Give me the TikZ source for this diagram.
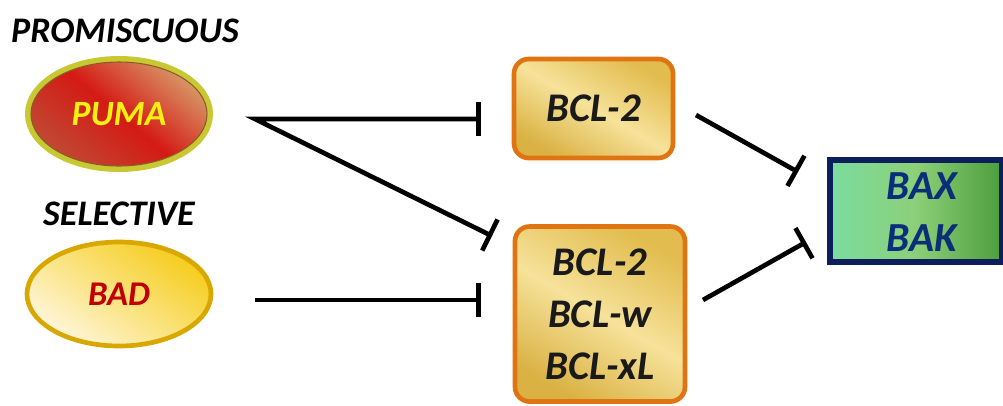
\documentclass[tikz,border=0pt]{standalone}
\usepackage{fontspec}
\setmainfont{Carlito}
\usetikzlibrary{shapes.geometric,arrows.meta}
\definecolor{pumaedge}{HTML}{C8C832}
\definecolor{pumaring}{HTML}{8A5A28}
\definecolor{pumared}{HTML}{D41A14}
\definecolor{pumatan}{HTML}{D89868}
\definecolor{pumabrown}{HTML}{C04A34}
\definecolor{pumatext}{HTML}{F8F010}
\definecolor{badedge}{HTML}{D8A800}
\definecolor{badcream}{HTML}{FFF6DC}
\definecolor{badgold}{HTML}{F6CC1C}
\definecolor{badmid}{HTML}{FAE27A}
\definecolor{badtext}{HTML}{C00000}
\definecolor{boxedge}{HTML}{E07412}
\definecolor{boxgold}{HTML}{E2BC4E}
\definecolor{boxlight}{HTML}{F6E29A}
\definecolor{boxdark}{HTML}{DAB244}
\definecolor{baxedge}{HTML}{0C1E5C}
\definecolor{baxmint}{HTML}{7ADDA0}
\definecolor{baxgreen}{HTML}{4C9E3C}
\definecolor{baxmid}{HTML}{8CCF78}
\definecolor{baxtext}{HTML}{0B2E7A}
\definecolor{bcltext}{HTML}{1A1A1A}
\tikzset{
  hdr/.style={font=\fontsize{27}{32}\selectfont\bfseries\itshape, text=black, inner sep=0pt},
  pumanode/.style={ellipse, draw=pumaedge, line width=4.5pt, minimum width=136.5pt, minimum height=82.5pt, inner sep=0pt,
     top color=pumatan, bottom color=pumabrown, middle color=pumared, shading angle=-40,
     font=\fontsize{26.7}{32}\selectfont\bfseries\itshape, text=pumatext},
  badnode/.style={ellipse, draw=badedge, line width=3.5pt, minimum width=138pt, minimum height=78pt, inner sep=0pt,
     top color=badgold, bottom color=badcream, middle color=badmid, shading angle=-35,
     font=\fontsize{26}{32}\selectfont\bfseries\itshape, text=badtext},
  bclbox/.style={rectangle, rounded corners=11pt, draw=boxedge, line width=3.5pt, inner sep=0pt,
     top color=boxgold, bottom color=boxdark, middle color=boxlight, shading angle=-30,
     align=center, font=\fontsize{30.5}{39}\selectfont\bfseries\itshape, text=bcltext},
  baxbox/.style={rectangle, draw=baxedge, line width=4.5pt, inner sep=0pt,
     left color=baxmint, right color=baxgreen, middle color=baxmid},
  baxlabel/.style={align=center, inner sep=0pt, font=\fontsize{31}{39}\selectfont\bfseries\itshape, text=baxtext},
  inhib/.style={line width=3.5pt, -{Bar[width=26pt]}},
  inhib2/.style={line width=3.5pt, {Bar[width=26pt]}-{Bar[width=26pt]}, line join=miter},
}
\begin{document}
\begin{tikzpicture}[x=0.75pt,y=-0.75pt]
\useasboundingbox (0,0) rectangle (1003,405);
\fill[white] (0,0) rectangle (1003,405);

\node[hdr] (promisc) at (125,31) {PROMISCUOUS};
\node[hdr] (select) at (119,214) {SELECTIVE};

\node[pumanode] (puma) at (119,114) {PUMA};
\draw[pumaring, line width=0.8pt] (puma.center) ellipse (66pt and 39pt);
\node[badnode] (bad) at (119,294) {BAD};

\node[bclbox, minimum width=119.25pt, minimum height=74.25pt] (bcltop) at (593.5,108.5) {BCL-2};
\node[bclbox, minimum width=127.5pt, minimum height=131.25pt] (bclbot) at (600,314) {BCL-2\\BCL-w\\BCL-xL};

\begin{scope}
\clip (0,0) rectangle (1003,405);
\node[baxbox, minimum width=129pt, minimum height=76.5pt] (bax) at (916,211) {};
\end{scope}
\node[baxlabel] (baxtxt) at (922,212) {BAX\\BAK};

\coordinate (vpuma) at (255,119);
\coordinate (t1) at (481,119);
\coordinate (t2) at (492,236);
\coordinate (sbad) at (255,300);
\coordinate (t3) at (481,300);
\coordinate (stop) at (696,115);
\coordinate (t4) at (798,172);
\coordinate (sbot) at (703,300);
\coordinate (t5) at (806,242);

\draw[inhib2] (t1) -- (vpuma) -- (t2);
\draw[inhib] (sbad) -- (t3);
\draw[inhib] (stop) -- (t4);
\draw[inhib] (sbot) -- (t5);
\end{tikzpicture}
\end{document}
